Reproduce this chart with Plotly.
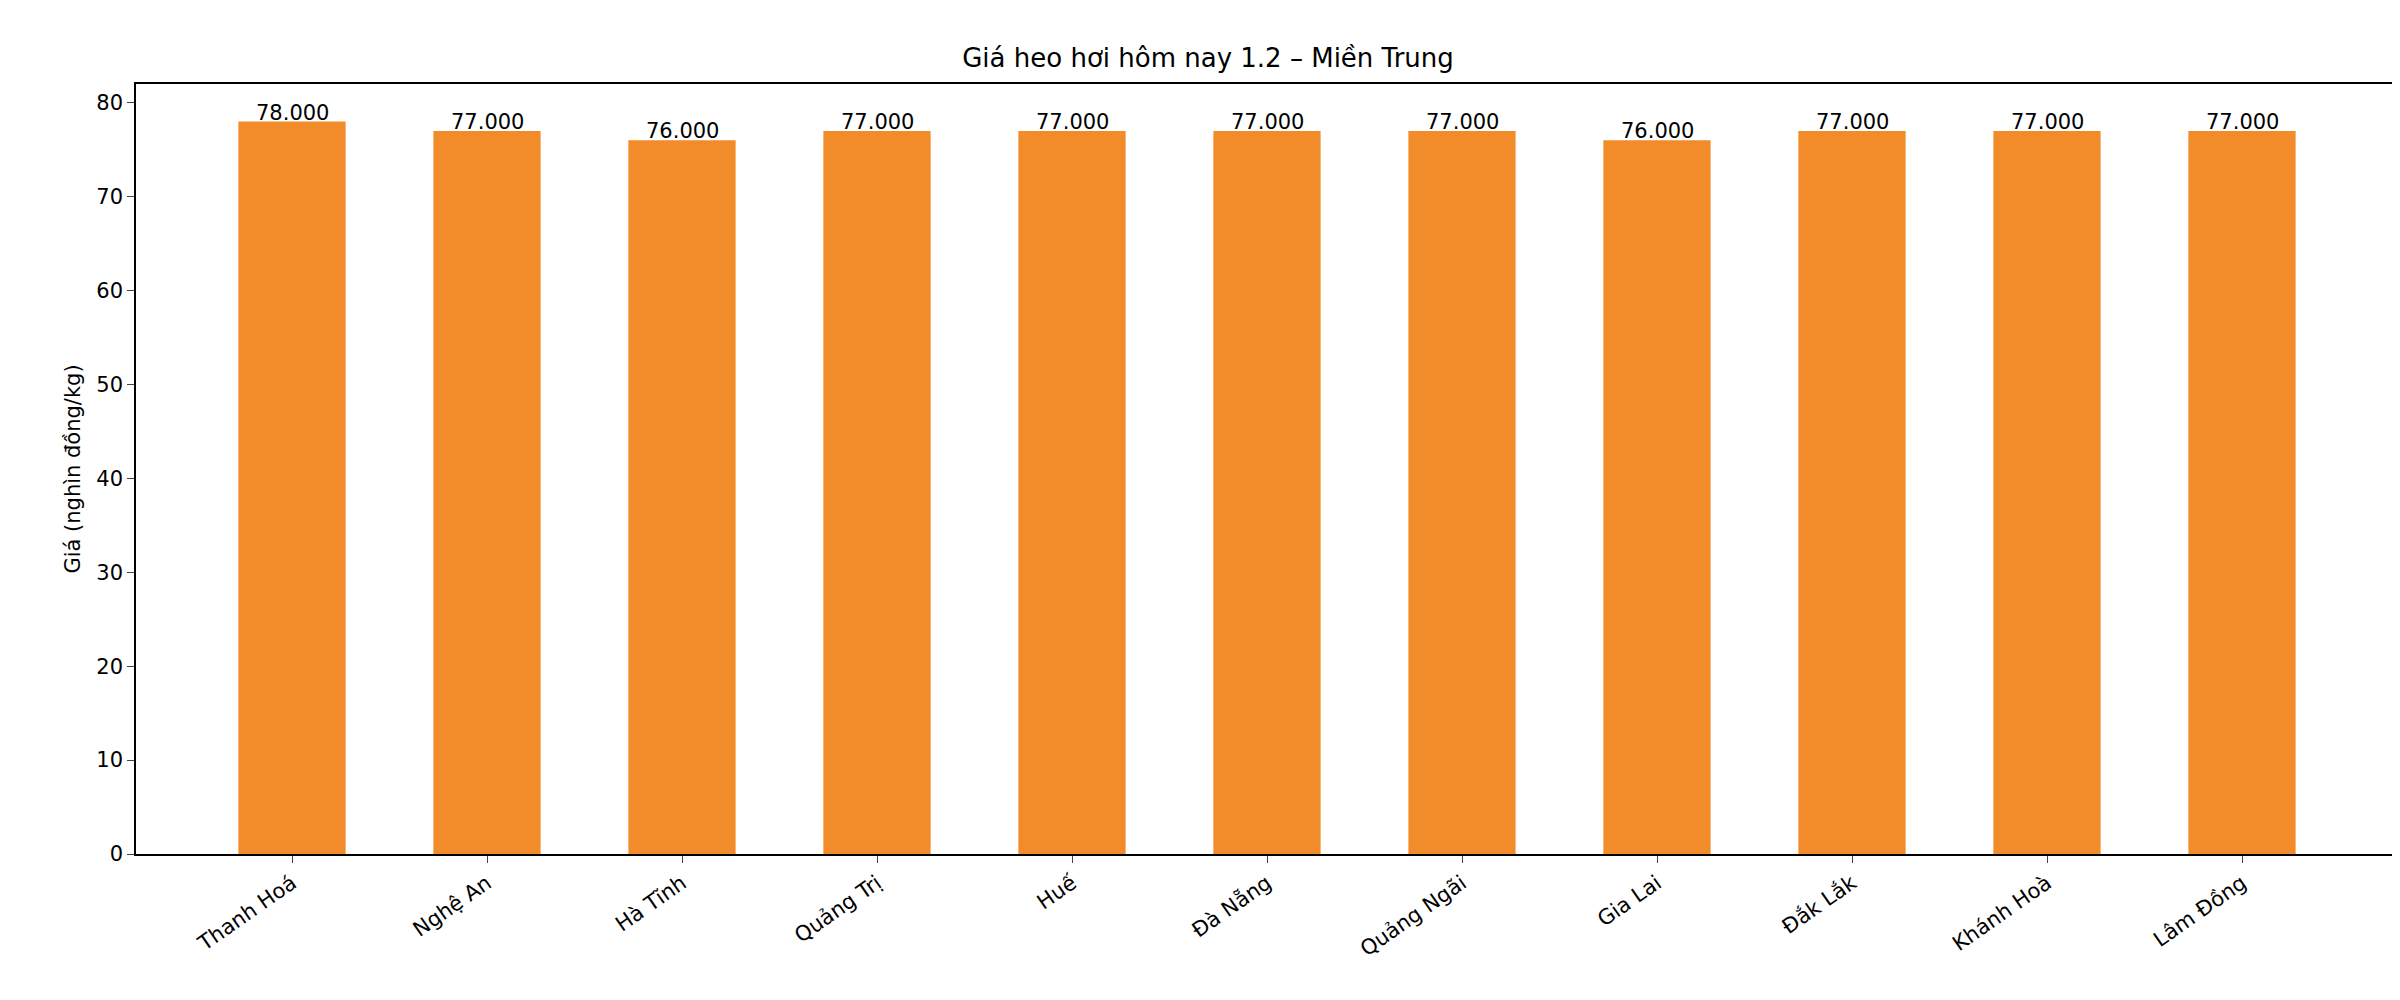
import plotly.graph_objects as go

provinces = ["Thanh Hoá", "Nghệ An", "Hà Tĩnh", "Quảng Trị", "Huế", "Đà Nẵng",
             "Quảng Ngãi", "Gia Lai", "Đắk Lắk", "Khánh Hoà", "Lâm Đồng"]
prices = [78, 77, 76, 77, 77, 77, 77, 76, 77, 77, 77]
labels = [f"{p}.000" for p in prices]
xs = list(range(len(provinces)))

fig = go.Figure(go.Bar(
    x=xs, y=prices, width=0.55,
    marker=dict(color="#f28c2a", line=dict(width=0)),
))
for x, y, t in zip(xs, prices, labels):
    fig.add_annotation(x=x, y=y, text=t, showarrow=False, yanchor="bottom", yshift=-5,
                       font=dict(size=21, color="black", family="DejaVu Sans"))
fig.update_layout(
    width=2400, height=1000, template="simple_white",
    margin=dict(l=128, r=8, t=76, b=154),
    title=dict(text="Giá heo hơi hôm nay 1.2 – Miền Trung", x=0.5, xanchor="center",
               y=0.95, yanchor="middle", font=dict(size=26, family="DejaVu Sans", color="black")),
    font=dict(family="DejaVu Sans", size=21, color="black"),
    showlegend=False,
)
fig.update_xaxes(range=[-0.8, 10.8], tickmode="array", tickvals=xs,
                 ticktext=provinces, tickangle=-35, ticks="outside", ticklen=7,
                 showline=True, linewidth=1.5, linecolor="black", mirror=True,
                 tickfont=dict(size=21))
fig.update_yaxes(range=[0, 82], dtick=10, ticks="outside", ticklen=7,
                 showline=True, linewidth=1.5, linecolor="black", mirror=True,
                 title=dict(text="Giá (nghìn đồng/kg)", font=dict(size=21), standoff=10),
                 tickfont=dict(size=21), showgrid=False, zeroline=False)
fig.write_html("out.html")
